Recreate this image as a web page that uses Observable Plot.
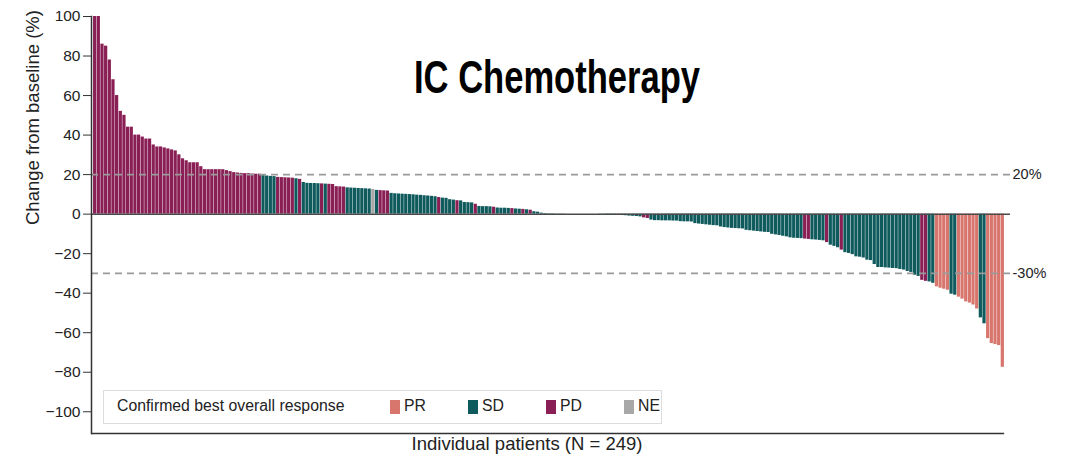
<!DOCTYPE html>
<html>
<head>
<meta charset="utf-8">
<script src="https://cdn.jsdelivr.net/npm/d3@7"></script>
<script src="https://cdn.jsdelivr.net/npm/@observablehq/plot@0.6"></script>
<style>
  html, body { margin: 0; padding: 0; background: #fff; }
  #wrap { position: relative; width: 1069px; height: 459px; font-family: "Liberation Sans", Arial, sans-serif; }
  #legend { position: absolute; left: 103px; top: 390px; width: 557px; height: 32px; border: 1px solid #dcdcdc; background: #fff; font-size: 15.8px; color: #222; }
  #legend span { position: absolute; top: 6px; white-space: nowrap; }
  #legend i { position: absolute; top: 9px; width: 10px; height: 14px; }
</style>
</head>
<body>
<div id="wrap"></div>
<script>
const titleText = "IC Chemotherapy";
const yLabel = "Change from baseline (%)";
const xLabel = "Individual patients (N = 249)";
const legendTitle = "Confirmed best overall response";

const categories = ["PR", "SD", "PD", "NE"];
const colors = ["#d8766e", "#0f5a5c", "#891f55", "#a8a8a8"];

const yTicks = [-100, -80, -60, -40, -20, 0, 20, 40, 60, 80, 100];
const thresholds = [20, -30];

// best % change from baseline per patient, sorted as in the waterfall
const values = [
  100, 100, 86, 85, 78, 68, 60, 52, 50, 44, 44, 40, 40, 39, 38, 38, 35, 34, 34, 33.5,
  33, 32.5, 32, 30, 28, 27, 26, 26, 26, 24, 22.5, 22.5, 22.5, 22.5, 22.5, 22.5, 22, 21.5, 21, 20.8,
  20.6, 20.5, 20.5, 20.3, 20.2, 20.2,
  19.5, 19.3, 19.1, 19.0, 18.6, 18.5, 18.4, 18.3, 18.2, 17.9, 17.6, 16.0, 15.6, 15.5, 15.5, 15.4,
  15.3, 15.2, 15.1, 15.0, 13.9, 13.8, 13.7, 13.3, 13.2, 13.1, 13.0, 12.9, 12.8, 12.7, 12.5, 12.0,
  11.9, 11.8, 11.7, 10.5, 10.3, 10.2, 10.1, 10.0, 9.9, 9.8, 9.6, 9.5, 9.3, 9.2, 9.0, 8.8, 8.4,
  8.1, 8.0, 7.3, 7.1, 6.8, 6.7, 5.9, 5.8, 5.7, 5.0, 3.9, 3.8, 3.8, 3.7, 3.5, 3.1, 3.0, 3.0, 2.9,
  2.8, 2.6, 2.5, 2.4, 2.2, 2.0, 1.2, 1.0, 0.5,
  0.3, 0.2, 0.2, 0.1, 0.1, 0.1, 0, 0, 0, 0, 0, 0, 0, 0, 0, -0.1, -0.1, -0.2, -0.4, -0.5, -0.6,
  -0.7, -0.8, -1.0, -1.1, -1.2, -1.4, -1.9, -2.2,
  -3.0, -3.3, -3.3, -3.4, -3.4, -3.4, -3.5, -3.5, -3.8, -3.9, -3.9, -4.0, -4.8, -5.0, -5.2, -5.4,
  -5.6, -5.8, -5.9, -6.5, -6.8, -7.0, -7.2, -7.3, -7.4, -7.5, -8.2, -8.4, -8.6, -8.8, -9.0, -9.2,
  -9.3, -10.2, -10.5, -10.8, -11.2, -11.5, -12.0, -12.2, -12.3, -12.4, -12.6, -12.8, -13.0, -13.1,
  -13.3, -13.5, -14.4, -15.7, -16.3, -17.0, -18.2,
  -19.5, -19.9, -20.5, -21.6, -21.8, -22.2, -23.3, -23.5, -25.5, -27.0, -27.0, -27.2, -27.3, -27.5,
  -27.6, -28.0, -28.3, -29.0, -29.5, -30.9, -31.5, -33.5, -34.0, -34.3, -35.0, -36.8, -37.5, -38.0,
  -38.5, -40.5, -41.0, -42.0, -43.0, -44.4, -45.0, -46.0, -48.0, -52.5, -55.5, -63.0, -65.5, -66.0,
  -66.5, -77.5
];

// best overall response for consecutive runs of bars [category, count]
const responseRuns = [
  ["PD", 46], ["SD", 4], ["PD", 5], ["SD", 1], ["PD", 1], ["SD", 5], ["PD", 1], ["SD", 1],
  ["PD", 5], ["SD", 7], ["NE", 1], ["SD", 1], ["PD", 3], ["SD", 13], ["PD", 1], ["SD", 4],
  ["PD", 1], ["SD", 4], ["PD", 1], ["SD", 4], ["PD", 1], ["SD", 4], ["PD", 1], ["SD", 2],
  ["PD", 1], ["SD", 1], ["PD", 1], ["SD", 23], ["PD", 1], ["SD", 6], ["PD", 2], ["SD", 42],
  ["PD", 2], ["SD", 4], ["PD", 1], ["SD", 3], ["PD", 1], ["SD", 21], ["PD", 2], ["SD", 2],
  ["PR", 4], ["SD", 2], ["PR", 6], ["SD", 2], ["PR", 5]
];

const responses = responseRuns.flatMap(([c, n]) => Array(n).fill(c));
const data = values.map((v, i) => ({i, v, r: responses[i] || "SD"}));
const N = values.length;
const yMin = -111, yMax = 100;

const chart = Plot.plot({
  width: 1069,
  height: 459,
  marginLeft: 91,
  marginRight: 59,
  marginTop: 16,
  marginBottom: 26,
  style: {fontFamily: "Liberation Sans, Arial, sans-serif", color: "#222", background: "#fff", overflow: "visible"},
  x: {domain: [-0.5, N + 1.6], axis: null},
  y: {domain: [yMin, yMax], axis: null},
  color: {domain: categories, range: colors},
  marks: [
    Plot.rectY(data, {x1: d => d.i + 0.06, x2: d => d.i + 0.94, y1: 0, y2: "v", fill: "r"}),
    Plot.ruleY(thresholds, {stroke: "#9a9a9a", strokeWidth: 1.6, strokeDasharray: "7,5"}),
    Plot.ruleY([0], {stroke: "#4a4a4a", strokeWidth: 1.5}),
    Plot.text(thresholds, {y: d => d, frameAnchor: "right", text: d => `${d}%`, textAnchor: "start", dx: 2, fontSize: 14.5, fill: "#222"}),
    Plot.axisY({ticks: yTicks, tickSize: 8, tickPadding: 3, fontSize: 15.5, label: null, stroke: "#333", fill: "#222"}),
    Plot.frame({anchor: "left", stroke: "#333", strokeWidth: 1.5}),
    Plot.ruleY([yMin], {x1: -0.5, x2: N, stroke: "#333", strokeWidth: 1.5}),
    Plot.text([yLabel], {frameAnchor: "left", rotate: -90, dx: -58, fontSize: 18.5, fill: "#222"}),
    Plot.text([xLabel], {frameAnchor: "bottom", dy: 16, dx: -24, fontSize: 18.5, fill: "#222"}),
    Plot.text([titleText], {frameAnchor: "top", dy: 76, dx: 6, lineAnchor: "bottom", fontSize: 46, fontWeight: "bold", fontFamily: "Liberation Sans, Arial, sans-serif", fill: "#000"})
  ]
});

// condense the title to the narrow bold look of the reference
chart.querySelectorAll("text").forEach(el => {
  if (el.textContent === titleText) {
    el.setAttribute("textLength", 286);
    el.setAttribute("lengthAdjust", "spacingAndGlyphs");
  }
});

const wrap = document.getElementById("wrap");
wrap.appendChild(chart);

// legend drawn from the categories/colors arrays
const legend = document.createElement("div");
legend.id = "legend";
const t = document.createElement("span");
t.textContent = legendTitle;
t.style.left = "13px";
legend.appendChild(t);
categories.forEach((c, k) => {
  const left = 286 + k * 78;
  const sw = document.createElement("i");
  sw.style.left = left + "px";
  sw.style.background = colors[k];
  legend.appendChild(sw);
  const s = document.createElement("span");
  s.textContent = c;
  s.style.left = (left + 14) + "px";
  legend.appendChild(s);
});
wrap.appendChild(legend);
</script>
</body>
</html>
